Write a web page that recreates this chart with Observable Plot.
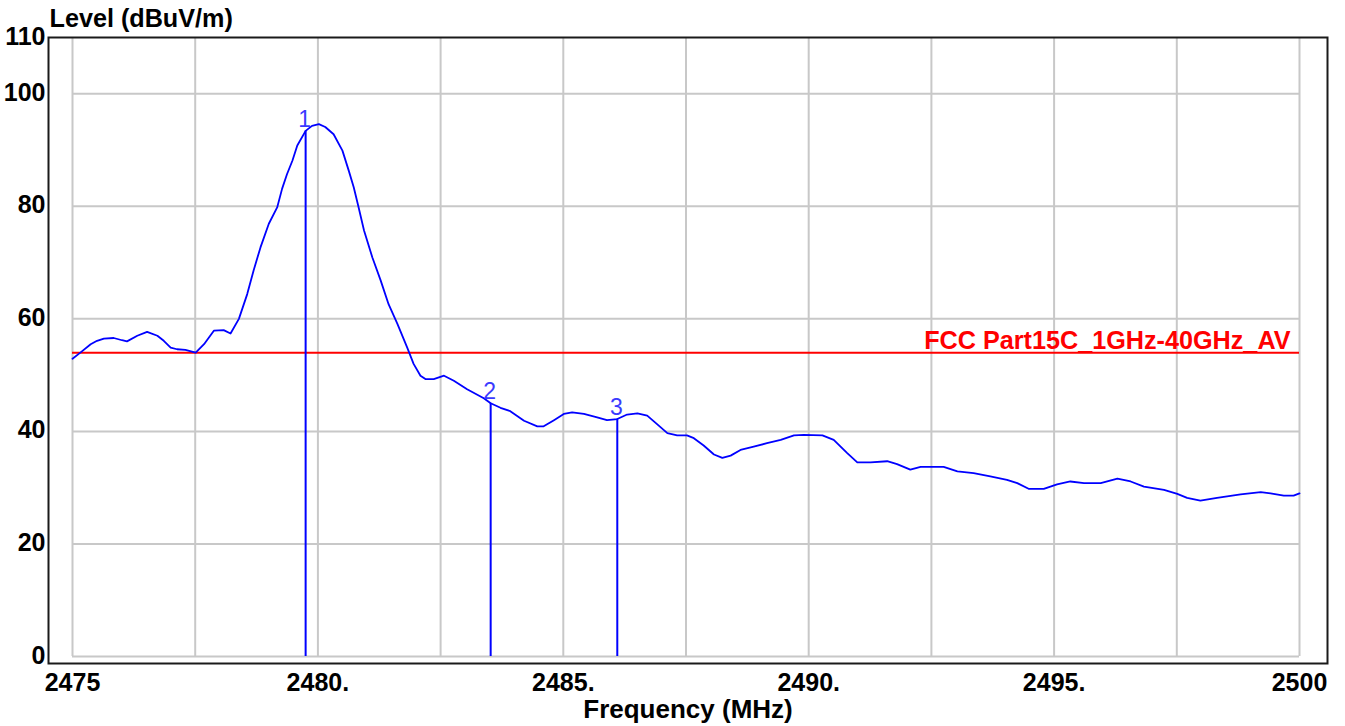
<!DOCTYPE html>
<html>
<head>
<meta charset="utf-8">
<script src="https://cdn.jsdelivr.net/npm/d3@7"></script>
<script src="https://cdn.jsdelivr.net/npm/@observablehq/plot@0.6"></script>
<style>
  html, body { margin: 0; padding: 0; background: #ffffff; }
  #chart svg { display: block; }
</style>
</head>
<body>
<div id="chart"></div>
<script>
// Measured trace (frequency in MHz, level in dBuV/m)
const freq = [
  2475.00, 2475.16, 2475.37, 2475.50, 2475.64, 2475.84, 2476.01, 2476.11, 2476.32, 2476.52,
  2476.73, 2476.86, 2477.00, 2477.13, 2477.30, 2477.51, 2477.68, 2477.88, 2478.08, 2478.22,
  2478.39, 2478.56, 2478.69, 2478.83, 2479.00, 2479.17, 2479.27, 2479.37, 2479.48, 2479.58,
  2479.75, 2479.88, 2480.02, 2480.15, 2480.32, 2480.50, 2480.63, 2480.73, 2480.83, 2480.94,
  2481.11, 2481.28, 2481.44, 2481.62, 2481.82, 2481.95, 2482.09, 2482.19, 2482.36, 2482.57,
  2482.77, 2483.04, 2483.38, 2483.52, 2483.72, 2483.92, 2484.20, 2484.47, 2484.60, 2484.81,
  2485.01, 2485.18, 2485.42, 2485.69, 2485.89, 2486.10, 2486.30, 2486.51, 2486.71, 2486.91,
  2487.12, 2487.32, 2487.52, 2487.66, 2487.86, 2488.07, 2488.24, 2488.41, 2488.61, 2488.88,
  2489.15, 2489.43, 2489.70, 2489.90, 2490.28, 2490.51, 2490.78, 2490.99, 2491.26, 2491.60,
  2491.80, 2492.07, 2492.28, 2492.75, 2493.03, 2493.36, 2493.70, 2494.04, 2494.25, 2494.48,
  2494.79, 2495.06, 2495.33, 2495.61, 2495.95, 2496.29, 2496.56, 2496.83, 2497.24, 2497.51,
  2497.71, 2497.98, 2498.32, 2498.80, 2499.21, 2499.41, 2499.68, 2499.88, 2500.00
];
const level = [
  52.9, 54.0, 55.5, 56.1, 56.5, 56.6, 56.2, 56.0, 57.0, 57.7,
  57.0, 56.1, 54.9, 54.6, 54.5, 54.0, 55.5, 57.9, 58.0, 57.4,
  60.0, 64.4, 68.6, 72.7, 76.9, 79.8, 83.1, 85.7, 88.1, 90.8,
  93.4, 94.3, 94.6, 94.1, 92.8, 89.9, 86.3, 83.4, 79.8, 75.7,
  70.9, 66.8, 62.6, 59.1, 54.9, 52.0, 49.9, 49.3, 49.3, 49.9,
  49.0, 47.5, 45.9, 45.0, 44.2, 43.6, 41.9, 40.9, 40.9, 42.0,
  43.1, 43.4, 43.1, 42.5, 42.0, 42.2, 43.0, 43.2, 42.8, 41.3,
  39.7, 39.3, 39.3, 38.8, 37.5, 35.9, 35.3, 35.7, 36.7, 37.3,
  37.9, 38.5, 39.3, 39.4, 39.3, 38.5, 36.2, 34.5, 34.5, 34.7,
  34.2, 33.2, 33.7, 33.7, 32.9, 32.6, 32.0, 31.4, 30.8, 29.8,
  29.8, 30.6, 31.1, 30.8, 30.8, 31.6, 31.1, 30.2, 29.6, 28.9,
  28.2, 27.7, 28.2, 28.8, 29.2, 29.0, 28.6, 28.6, 29.0
];

// Markers
const markerIds = ["1", "2", "3"];
const markerFreq = [2479.75, 2483.52, 2486.10];
const markerLevel = [93.4, 45.0, 42.2];

// Limit line
const limitName = "FCC Part15C_1GHz-40GHz_AV";
const limitLevel = 54;

// Axes
const xDomain = [2475, 2500];
const yDomain = [0, 110];
const xGrid = [2475, 2477.5, 2480, 2482.5, 2485, 2487.5, 2490, 2492.5, 2495, 2497.5, 2500];
const yGrid = [0, 20, 40, 60, 80, 100];
const xTickValues = [2475, 2480, 2485, 2490, 2495, 2500];
const xTickLabels = ["2475", "2480.", "2485.", "2490.", "2495.", "2500"];
const yTickValues = [0, 20, 40, 60, 80, 100, 110];
const yTickLabels = ["0", "20", "40", "60", "80", "100", "110"];
const yTitle = "Level (dBuV/m)";
const xTitle = "Frequency (MHz)";

const trace = freq.map((f, i) => ({f, v: level[i]}));
const markers = markerIds.map((id, i) => ({id, f: markerFreq[i], v: markerLevel[i]}));

const font = "'Liberation Sans', Arial, Helvetica, sans-serif";

const chart = Plot.plot({
  width: 1345,
  height: 726,
  marginLeft: 48,
  marginRight: 18,
  marginTop: 37,
  marginBottom: 63,
  insetLeft: 24,
  insetRight: 28,
  insetTop: 0,
  insetBottom: 7,
  style: {fontFamily: font, fontSize: "25px", fontWeight: "bold", background: "#ffffff", color: "#000"},
  x: {domain: xDomain, axis: null},
  y: {domain: yDomain, axis: null},
  marks: [
    // grid
    Plot.ruleX(xGrid, {x: d => d, y1: yDomain[0], y2: yDomain[1], stroke: "#c8c8c8", strokeWidth: 2}),
    Plot.ruleY(yGrid, {y: d => d, x1: xDomain[0], x2: xDomain[1], stroke: "#c8c8c8", strokeWidth: 2}),
    // limit line
    Plot.ruleY([limitLevel], {x1: xDomain[0], x2: xDomain[1], stroke: "#ff0000", strokeWidth: 2}),
    Plot.text([limitName], {x: xDomain[1], y: limitLevel, text: d => d, textAnchor: "end", lineAnchor: "bottom", dx: -9, dy: -4, fill: "#ff0000", fontSize: 25.2, fontWeight: "bold"}),
    // trace
    Plot.line(trace, {x: "f", y: "v", stroke: "#0000ff", strokeWidth: 1.8}),
    // markers
    Plot.ruleX(markers, {x: "f", y1: 0, y2: "v", stroke: "#0000ff", strokeWidth: 2}),
    Plot.text(markers, {x: "f", y: "v", text: "id", lineAnchor: "bottom", dx: -1, dy: -4, fill: "#3a3aff", fontSize: 23, fontWeight: "normal"}),
    // frame
    Plot.frame({stroke: "#1a1a1a", strokeWidth: 2}),
    // axes
    Plot.axisX(xTickValues, {anchor: "bottom", tickSize: 0, tickPadding: 10, tickFormat: (d, i) => xTickLabels[i], label: null, fontSize: 25, fontWeight: "bold", fill: "#000"}),
    Plot.axisY(yTickValues, {anchor: "left", tickSize: 0, tickPadding: 3, tickFormat: (d, i) => yTickLabels[i], label: null, fontSize: 25, fontWeight: "bold", fill: "#000", dy: -1}),
    // titles
    Plot.text([yTitle], {frameAnchor: "top-left", text: d => d, textAnchor: "start", lineAnchor: "middle", dx: 1, dy: -19, fontSize: 25.2, fontWeight: "bold", fill: "#000"}),
    Plot.text([xTitle], {frameAnchor: "bottom", text: d => d, lineAnchor: "middle", dy: 46, fontSize: 26, fontWeight: "bold", fill: "#000"})
  ]
});

document.getElementById("chart").appendChild(chart);
</script>
</body>
</html>
